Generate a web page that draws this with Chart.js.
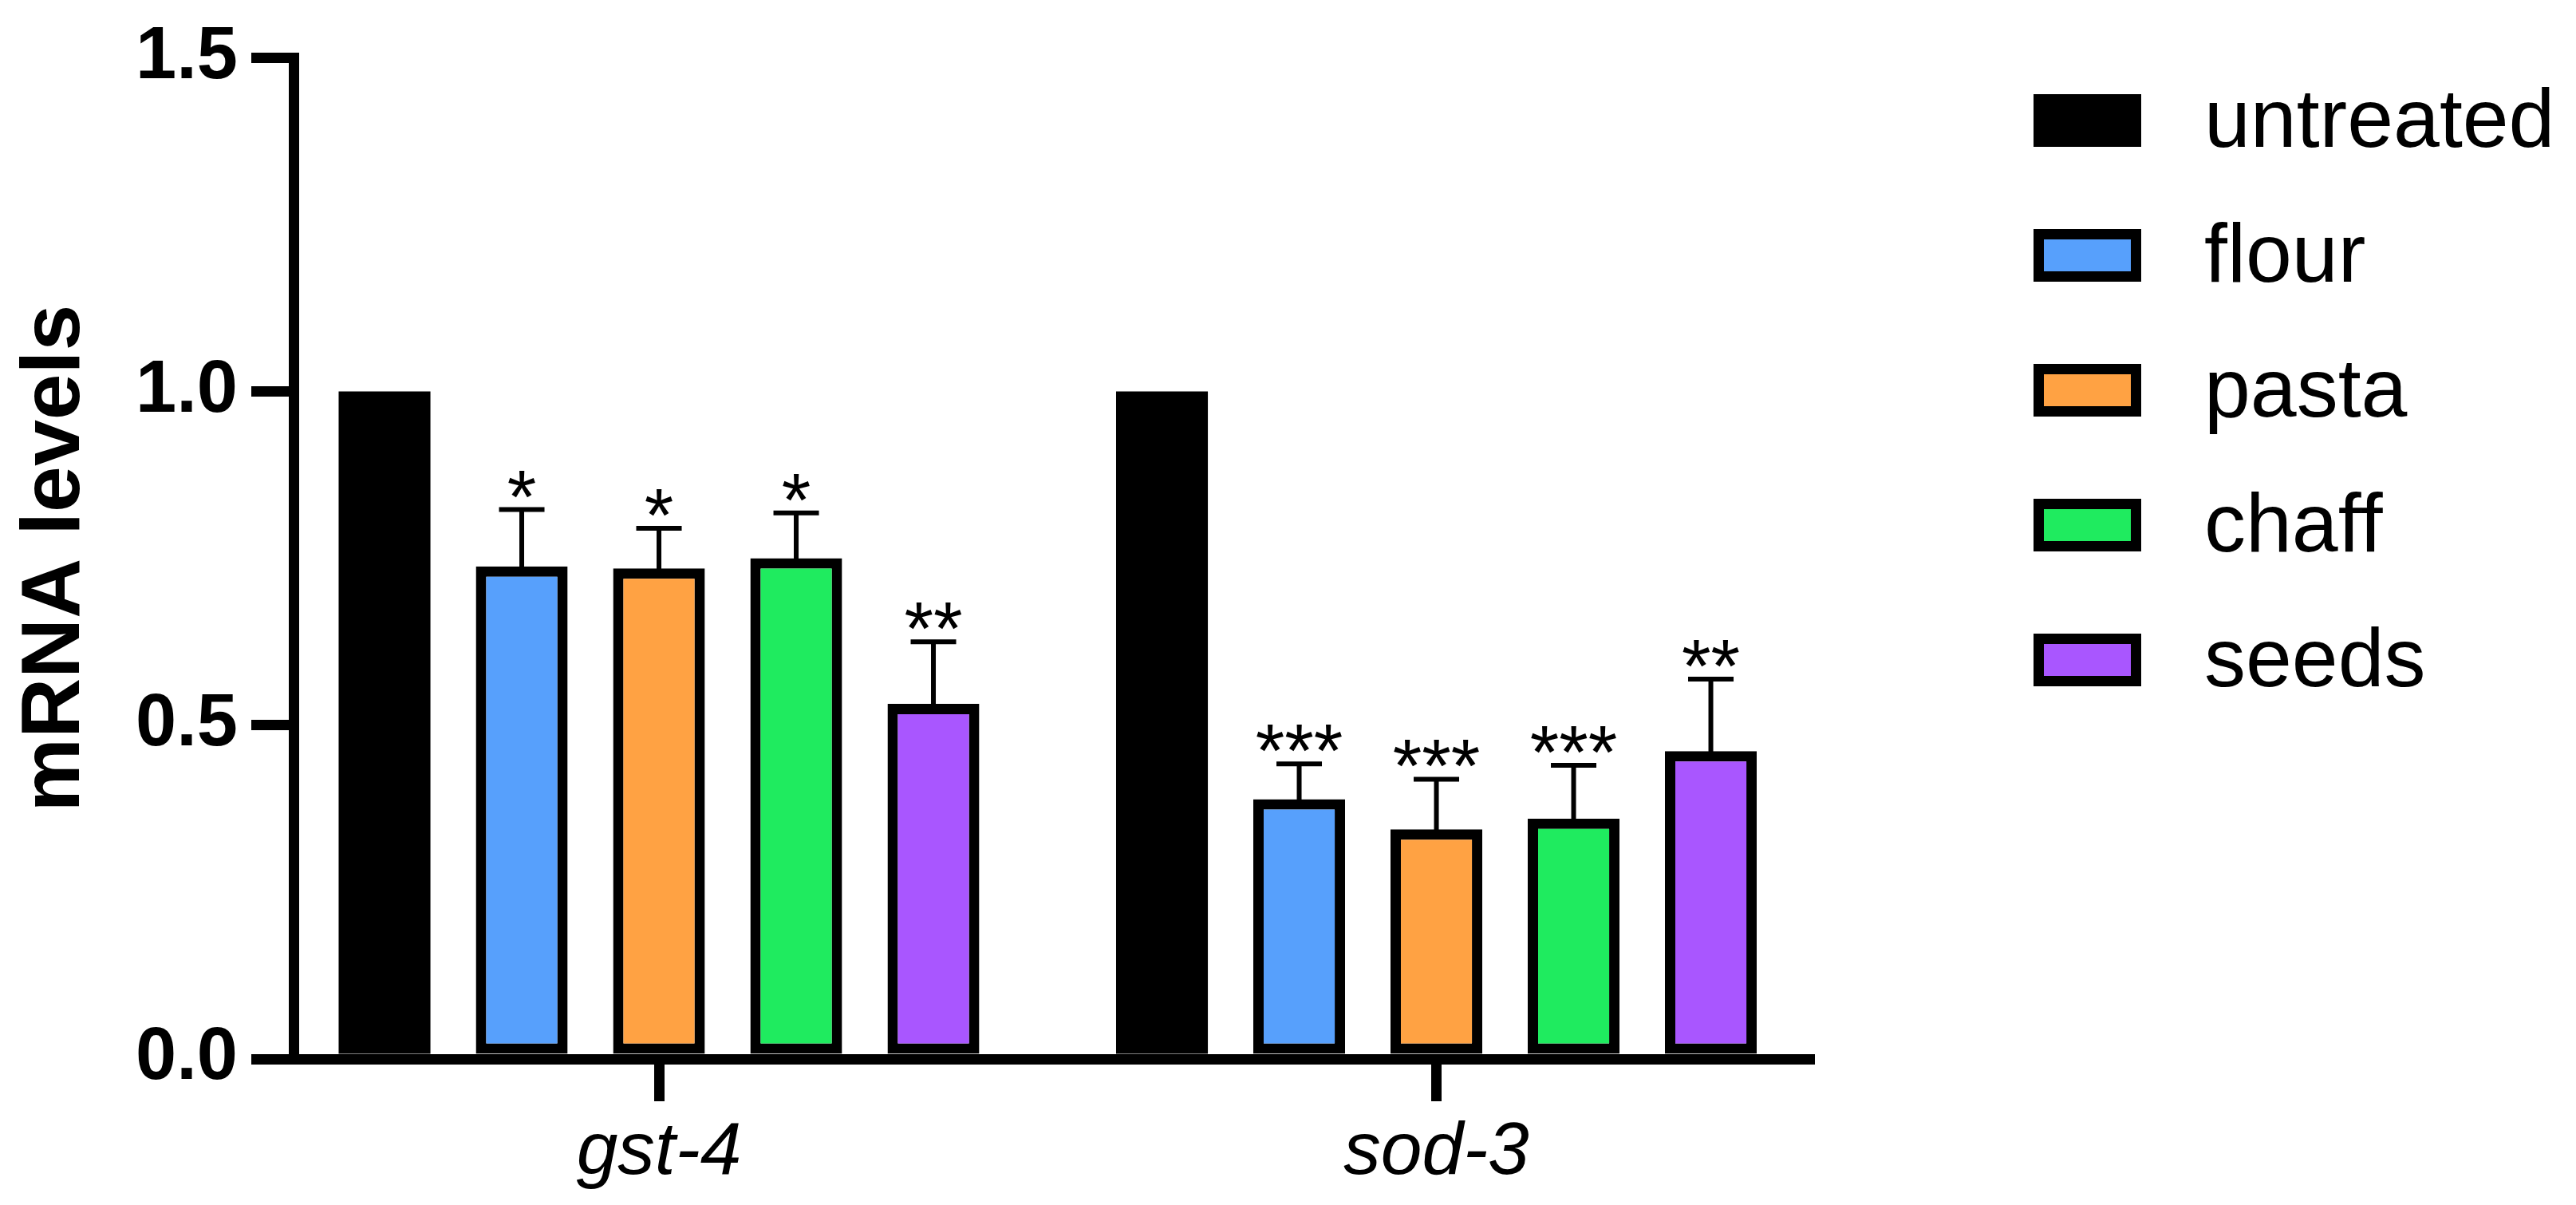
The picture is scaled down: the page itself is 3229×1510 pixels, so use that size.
<!DOCTYPE html>
<html>
<head>
<meta charset="utf-8">
<title>mRNA levels</title>
<script src="https://cdn.jsdelivr.net/npm/chart.js@4.4.1/dist/chart.umd.min.js"></script>
<style>
  html, body { margin: 0; padding: 0; background: #fff; }
  #wrap { width: 3229px; height: 1510px; }
</style>
</head>
<body>
<div id="wrap"><canvas id="chart"></canvas></div>
<script>
// data
const genes = ['gst-4', 'sod-3'];
const groups = ['untreated', 'flour', 'pasta', 'chaff', 'seeds'];
const colors = ['#000000', '#57a0fc', '#ffa243', '#1feb5f', '#a956ff'];

const untreated = [1.0, 1.0];
const flour = [0.738, 0.389];
const pasta = [0.735, 0.344];
const chaff = [0.750, 0.360];
const seeds = [0.532, 0.461];

// upper error (SD) per bar
const flourErr = [0.085, 0.053];
const pastaErr = [0.060, 0.075];
const chaffErr = [0.068, 0.080];
const seedsErr = [0.093, 0.108];

// significance marks
const flourSig = ['*', '***'];
const pastaSig = ['*', '***'];
const chaffSig = ['*', '***'];
const seedsSig = ['**', '**'];

const FONT = '"Liberation Sans", Arial, Helvetica, sans-serif';

const values = [untreated, flour, pasta, chaff, seeds];
const errs = [null, flourErr, pastaErr, chaffErr, seedsErr];
const sigs = [null, flourSig, pastaSig, chaffSig, seedsSig];

const datasets = groups.map((name, i) => ({
    label: name,
    data: genes.map((g, j) => ({ x: j, y: values[i][j] })),
    backgroundColor: colors[i],
    borderColor: '#000',
    borderWidth: i === 0 ? 0 : 13,
    borderSkipped: false,
    err: errs[i],
    sig: sigs[i],
    categoryPercentage: 0.8825,
    barPercentage: 0.669
}));

// error bars + asterisks on top of each treated bar
const errorBars = {
    id: 'errorBars',
    afterDatasetsDraw(chart) {
        const { ctx, scales: { y } } = chart;
        ctx.save();
        chart.data.datasets.forEach((ds, i) => {
            if (!ds.err) return;
            chart.getDatasetMeta(i).data.forEach((bar, j) => {
                const top = y.getPixelForValue(ds.data[j].y + ds.err[j]);
                ctx.strokeStyle = '#000';
                ctx.lineWidth = 6;
                ctx.lineCap = 'butt';
                ctx.beginPath();
                ctx.moveTo(bar.x, bar.y + 6);
                ctx.lineTo(bar.x, top);
                ctx.moveTo(bar.x - 28.5, top);
                ctx.lineTo(bar.x + 28.5, top);
                ctx.stroke();
                ctx.fillStyle = '#000';
                ctx.font = '94px ' + FONT;
                ctx.textAlign = 'center';
                ctx.textBaseline = 'alphabetic';
                ctx.fillText(ds.sig[j], bar.x, top + 16);
            });
        });
        ctx.restore();
    }
};

// legend on the right, drawn from the datasets
const sideLegend = {
    id: 'sideLegend',
    afterDraw(chart) {
        const ctx = chart.ctx;
        ctx.save();
        chart.data.datasets.forEach((ds, i) => {
            const cy = 151 + i * 169;
            ctx.fillStyle = '#000';
            ctx.fillRect(2549, cy - 33, 135, 66);
            if (ds.borderWidth) {
                ctx.fillStyle = ds.backgroundColor;
                ctx.fillRect(2549 + 13, cy - 33 + 13, 135 - 26, 66 - 26);
            }
            ctx.fillStyle = '#000';
            ctx.font = '104px ' + FONT;
            ctx.textAlign = 'left';
            ctx.textBaseline = 'alphabetic';
            ctx.fillText(ds.label, 2763, cy + 33);
        });
        ctx.restore();
    }
};

new Chart(document.getElementById('chart'), {
    type: 'bar',
    data: { datasets },
    plugins: [errorBars, sideLegend],
    options: {
        responsive: true,
        maintainAspectRatio: false,
        devicePixelRatio: 1,
        animation: false,
        layout: { padding: { top: 67, left: 0, right: 961, bottom: 0 } },
        plugins: { legend: { display: false }, tooltip: { enabled: false } },
        scales: {
            x: {
                type: 'linear',
                min: -0.47,
                max: 1.4797,
                offset: false,
                afterBuildTicks: s => { s.ticks = genes.map((g, j) => ({ value: j })); },
                afterFit: s => { s.height = 183; },
                grid: { display: true, offset: false, drawOnChartArea: false, drawTicks: true, tickLength: 53, lineWidth: 13, color: '#000' },
                border: { display: true, width: 13, color: '#000' },
                ticks: {
                    callback: v => genes[v] ?? '',
                    color: '#000',
                    padding: 9,
                    maxRotation: 0,
                    autoSkip: false,
                    font: { family: FONT, size: 93, style: 'italic' }
                }
            },
            y: {
                min: 0,
                max: 1.5,
                afterFit: s => { s.width = 368; },
                grid: { display: true, drawOnChartArea: false, drawTicks: true, tickLength: 53, lineWidth: 13, color: '#000' },
                border: { display: true, width: 13, color: '#000' },
                ticks: {
                    stepSize: 0.5,
                    callback: v => v.toFixed(1),
                    color: '#000',
                    padding: 17,
                    font: { family: FONT, size: 92, weight: 'bold' }
                },
                title: {
                    display: true,
                    text: 'mRNA levels',
                    color: '#000',
                    padding: { top: 8, bottom: 0 },
                    font: { family: FONT, size: 104, weight: 'bold' }
                }
            }
        }
    }
});
</script>
</body>
</html>
